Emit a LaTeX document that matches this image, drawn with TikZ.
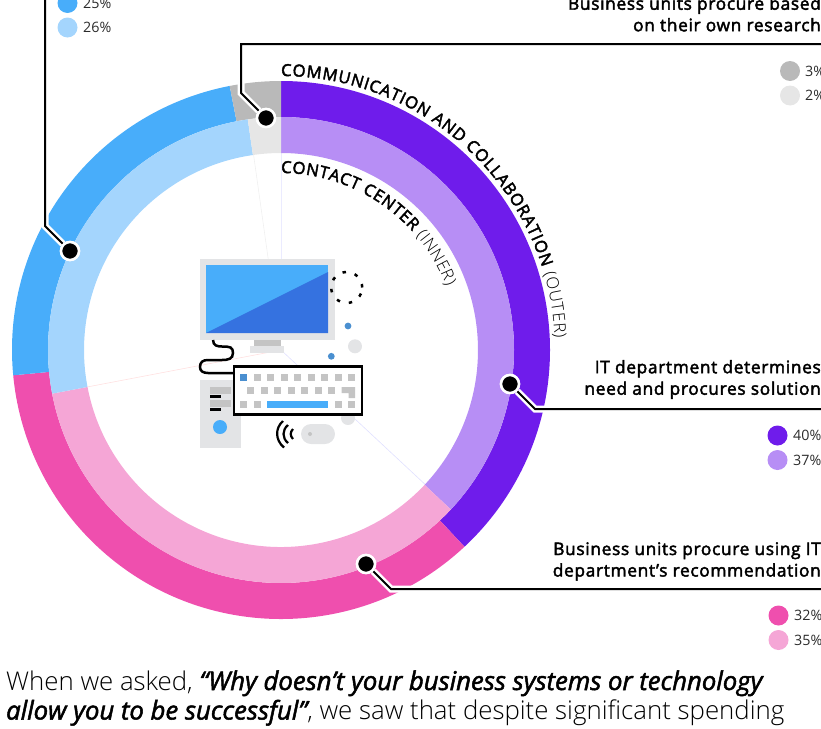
\documentclass[tikz,border=0pt]{standalone}
\usepackage{fontspec}
\usetikzlibrary{decorations.text}
\setmainfont{Open Sans}
\newfontfamily\fsemi{Open Sans}[FakeBold=2.5,LetterSpace=3.9]
\newfontfamily\fsemicurve{Open Sans}[FakeBold=2.5]
\newfontfamily\fsemiit{Open Sans}[ItalicFeatures={FakeBold=2}]
\newcommand\fsemii{\fsemiit\itshape\fontsize{25.7}{29}\selectfont}
\newcommand\flight{\normalfont}
\IfFontExistsTF{Open Sans Light}{\newfontfamily\flightf{Open Sans Light}\renewcommand\flight{\flightf}}{}
\definecolor{cPur}{HTML}{6F1CEB}\definecolor{cPurL}{HTML}{B78EF5}
\definecolor{cPink}{HTML}{EF4FAE}\definecolor{cPinkL}{HTML}{F5A6D6}
\definecolor{cBlue}{HTML}{48ADFA}\definecolor{cBlueL}{HTML}{A4D5FD}
\definecolor{cGrey}{HTML}{B9B9B9}\definecolor{cGreyL}{HTML}{E6E6E6}
\definecolor{cScreen}{HTML}{3572E0}\definecolor{cKey}{HTML}{C4C4C4}
\definecolor{cBody}{HTML}{E3E4E6}\definecolor{cDot}{HTML}{4A8FD0}
\definecolor{cTxt}{HTML}{2B2B2B}
\newcommand\sect[5]{\fill[#1] (90-#4:#3) arc (90-#4:90-#5:#3) -- (90-#5:#2) arc (90-#5:90-#4:#2) -- cycle;}
\newcommand\keys[2]{\foreach \kx in {#2} \fill[cKey] (\kx,#1) rectangle ++(7,-7);}
\tikzset{
  leaderdot/.style={circle,fill=black,draw=white,line width=2.5pt,minimum size=18pt,inner sep=0pt},
  casing/.style={draw=white,line width=7pt,line join=miter},
  leader/.style={draw=black,line width=2pt,line join=miter},
  legdot/.style={circle,inner sep=0pt,minimum size=20pt},
  legtxt/.style={anchor=west,inner sep=0pt,font=\fontsize{14.3}{14}\selectfont,text=cTxt},
  head/.style={anchor=east,align=right,inner sep=0pt,font=\fsemi\fontsize{17.3}{21.5}\selectfont,text=black},
  faint/.style={draw=#1,line width=.6pt},
  body/.style={anchor=base west,inner sep=0pt,font=\flight\fontsize{25.8}{29}\selectfont,text=black}
}
\begin{document}
\begin{tikzpicture}[x=1pt,y=1pt]
\useasboundingbox (0,0) rectangle (821,-728);
\clip (0,0) rectangle (821,-728);
\begin{scope}[shift={(281,-350)}]
\draw[faint=blue!8] (0,197) -- (0,90);
\draw[faint=black!6] (98:197) -- (98:90);
\draw[faint=red!12] (-169.2:197) -- (-169.2:10);
\draw[faint=blue!12] (-43:197) -- (-43:0);
\sect{cPur}{233}{269}{0}{137}
\sect{cPink}{233}{269}{137}{264.6}
\sect{cBlue}{233}{269}{264.6}{349}
\sect{cGrey}{233}{269}{349}{360}
\sect{cPurL}{197}{233}{0}{133.2}
\sect{cPinkL}{197}{233}{133.2}{259.2}
\sect{cBlueL}{197}{233}{259.2}{351.8}
\sect{cGreyL}{197}{233}{351.8}{360}
\path[decorate,decoration={text along path,text align={fit to path},text format delimiters={|}{|},
  text={|\fsemicurve\fontsize{16.6}{16}\selectfont|COMMUNICATION AND COLLABORATION |\flight\fontsize{16.6}{16}\selectfont|(OUTER)}}]
  (90:274) arc (90:2.5:274);
\path[decorate,decoration={text along path,text align={fit to path},text format delimiters={|}{|},
  text={|\fsemicurve\fontsize{16.6}{16}\selectfont|CONTACT CENTER |\flight\fontsize{16.6}{16}\selectfont|(INNER)}}]
  (90:177) arc (90:21:177);
\end{scope}
\fill[cBody] (348,-418) circle (7);
\fill[cBody] (200,-259) rectangle (335,-340);
\fill[cBlue] (206,-265) rectangle (328,-333);
\fill[cScreen] (206,-333) -- (328,-272) -- (328,-333) -- cycle;
\fill[cKey] (254,-340) rectangle (281.3,-346);
\fill[cBody] (250,-346) rectangle (284,-352.7);
\fill[cBody] (200,-380) rectangle (241,-448);
\fill[cKey] (210,-387) rectangle (231,-394);
\fill[black] (210,-395) rectangle (221,-398);
\fill[cKey] (210,-400) rectangle (231,-407);
\fill[black] (210,-408) rectangle (221,-411);
\fill[cBlue] (220,-427) circle (7);
\draw[black,line width=2.5pt] (213,-340) .. controls (213,-346) and (218,-346.5) .. (222,-346.5)
  .. controls (230,-346.5) and (233,-347) .. (233,-353) .. controls (233,-359) and (228,-360) .. (222,-360)
  -- (208,-360) .. controls (203,-360) and (200,-362) .. (200,-367) .. controls (200,-371) and (203,-373) .. (208,-373) -- (233,-373);
\draw[black,fill=white,line width=2.5pt] (234,-366.5) rectangle (362,-414.5);
\fill[cDot] (240,-374) rectangle ++(7,-7);
\keys{-374}{254,267.3,281,294,308,321,335,348}
\keys{-387}{246.7,261,274,287.7,301,315,328}
\fill[cKey] (341.7,-387) -- (355,-387) -- (355,-398) -- (348.5,-398) -- (348.5,-393) -- (341.7,-393) -- cycle;
\keys{-401}{240,254,335,348}
\fill[cBlue] (267,-401) rectangle (328,-408);
\fill[cBody,rounded corners=10pt] (301,-424) rectangle (335,-444);
\fill[cKey] (310,-434) circle (2);
\draw[black,line width=2.2pt] (283,-421) .. controls (275,-428) and (275,-440) .. (284,-447.5);
\draw[black,line width=2.2pt] (288,-425) .. controls (282,-430) and (282,-438) .. (288,-443);
\draw[black,line width=2.2pt] (293,-429) .. controls (290,-432) and (290,-436) .. (293,-439);
\draw[black,line width=2.5pt,dash pattern=on 3.5pt off 9pt] (346.7,-287.5) circle (15.5);
\fill[cDot] (348,-326) circle (3.4);
\fill[cDot] (331.3,-356.3) circle (3.4);
\fill[cBody] (355,-346.3) circle (7);
\node[head] (h1) at (821,-14) {Business units procure based\\on their own research};
\node[head] (h2) at (821,-379.5) {IT department determines\\need and procures solution};
\node[head] (h3) at (821,-561.5) {Business units procure using IT\\department’s recommendation};
\node[leaderdot] (dA) at (70,-251) {};
\node[leaderdot] (dB) at (266,-118) {};
\node[leaderdot] (dC) at (510,-384) {};
\node[leaderdot] (dD) at (366,-564) {};
\coordinate (a1) at (45,-226); \coordinate (a2) at (45,5);
\coordinate (b1) at (241,-93); \coordinate (b2) at (241,-44); \coordinate (b3) at (826,-44);
\coordinate (c1) at (535,-409); \coordinate (c2) at (826,-409);
\coordinate (e1) at (391,-589); \coordinate (e2) at (826,-589);
\path[casing] (dA) -- (a1) -- (a2);
\path[casing] (dB) -- (b1) -- (b2);
\path[casing] (dC) -- (c1) -- (c2);
\path[casing] (dD) -- (e1) -- (e2);
\path[leader] (dA) -- (a1) -- (a2);
\path[leader] (dB) -- (b1) -- (b2) -- (b3);
\path[leader] (dC) -- (c1) -- (c2);
\path[leader] (dD) -- (e1) -- (e2);
\node[leaderdot] at (dA) {};
\node[leaderdot] at (dB) {};
\node[leaderdot] at (dC) {};
\node[leaderdot] at (dD) {};
\node[legdot,fill=cBlue] (l1) at (67.5,-3) {};
\node[legtxt] (t1) at (83,-3) {25\%};
\node[legdot,fill=cBlueL] (l2) at (67.5,-27.5) {};
\node[legtxt] (t2) at (83,-27.5) {26\%};
\node[legdot,fill=cGrey] (l3) at (790,-71) {};
\node[legtxt] (t3) at (805,-71) {3\%};
\node[legdot,fill=cGreyL] (l4) at (790,-95.5) {};
\node[legtxt] (t4) at (805,-95.5) {2\%};
\node[legdot,fill=cPur] (l5) at (777.5,-435.5) {};
\node[legtxt] (t5) at (793,-435.5) {40\%};
\node[legdot,fill=cPurL] (l6) at (777.5,-460) {};
\node[legtxt] (t6) at (793,-460) {37\%};
\node[legdot,fill=cPink] (l7) at (778.5,-615.5) {};
\node[legtxt] (t7) at (794,-615.5) {32\%};
\node[legdot,fill=cPinkL] (l8) at (778.5,-640) {};
\node[legtxt] (t8) at (794,-640) {35\%};
\node[body] (p1) at (6,-690) {When we asked, {\fsemii “Why doesn’t your business systems or technology}};
\node[body] (p2) at (6,-719.5) {{\fsemii allow you to be successful”}, we saw that despite significant spending};
\end{tikzpicture}
\end{document}
